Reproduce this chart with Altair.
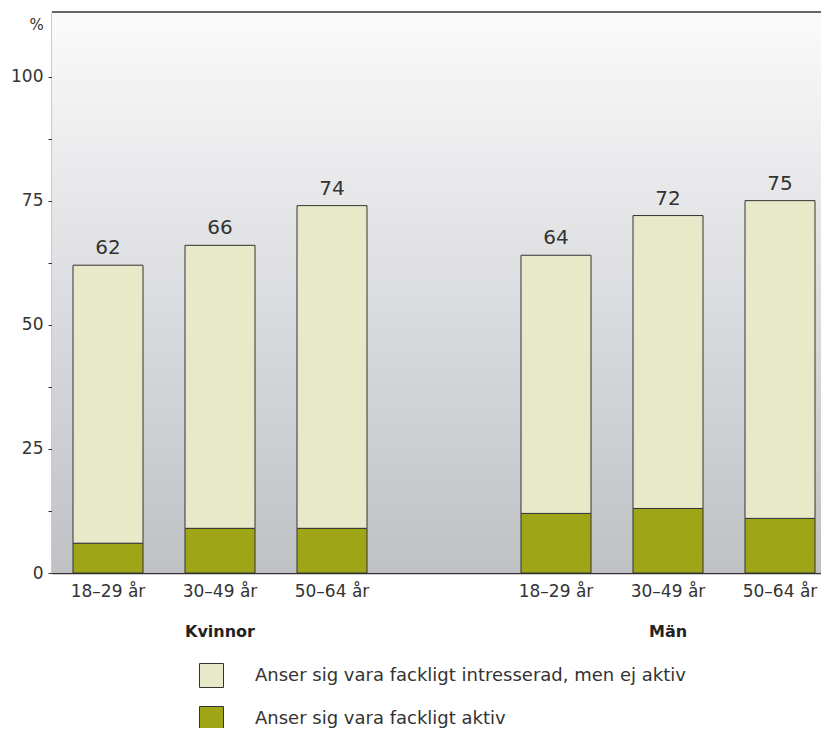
import altair as alt
import pandas as pd

# ---- data ----
keys = ["K1", "K2", "K3", "gap", "M1", "M2", "M3"]
age_labels = ["18–29 år", "30–49 år", "50–64 år", "", "18–29 år", "30–49 år", "50–64 år"]
bar_keys = ["K1", "K2", "K3", "M1", "M2", "M3"]
totals = [62, 66, 74, 64, 72, 75]          # intresserad (incl. aktiva)
active = [6, 9, 9, 12, 13, 11]              # fackligt aktiv
group_keys = ["K2", "M2"]
group_names = ["Kvinnor", "Män"]
series = ["Anser sig vara fackligt intresserad, men ej aktiv",
          "Anser sig vara fackligt aktiv"]
colors = ["#e8e9c9", "#9ea617"]

FONT = "DejaVu Sans"
W, H = 769, 561

rows = []
for k, t, a in zip(bar_keys, totals, active):
    rows.append({"key": k, "serie": series[1], "lo": 0, "hi": a})
    rows.append({"key": k, "serie": series[0], "lo": a, "hi": t})
bars_df = pd.DataFrame(rows)
tot_df = pd.DataFrame({"key": bar_keys, "total": totals})
grp_df = pd.DataFrame({"key": group_keys, "name": group_names})

label_map = "{" + ",".join(f"'{k}':'{l}'" for k, l in zip(keys, age_labels)) + "}"

xscale = alt.Scale(domain=keys, range=[0, 784], paddingInner=0.375, paddingOuter=0.1875)
yscale = alt.Scale(domain=[0, 113], nice=False)

x_enc = alt.X("key:N", scale=xscale, sort=keys,
              axis=alt.Axis(title=None, labelExpr=f"{label_map}[datum.value]",
                            labelAngle=0, ticks=False, labelPadding=10,
                            labelFontSize=17, labelColor="#333", labelFont=FONT,
                            domainColor="#333", domainWidth=1.5))

bg = alt.Chart(alt.Data(values=[{}])).mark_rect(
    fill=alt.Gradient(gradient="linear", x1=0, x2=0, y1=0, y2=1,
                      stops=[alt.GradientStop(color="#fbfbfb", offset=0),
                             alt.GradientStop(color="#dcdde0", offset=0.5),
                             alt.GradientStop(color="#bfc1c5", offset=1)])
).encode(x=alt.value(0), x2=alt.value("width"), y=alt.value(0), y2=alt.value("height"))

top_line = alt.Chart(alt.Data(values=[{}])).mark_rule(color="#333", strokeWidth=1.5).encode(
    x=alt.value(0), x2=alt.value("width"), y=alt.value(0))

bars = alt.Chart(bars_df).mark_bar(stroke="#333", strokeWidth=1).encode(
    x=x_enc,
    y=alt.Y("lo:Q", scale=yscale,
            axis=alt.Axis(title="%", titleAngle=0, titleX=-16, titleY=12,
                          titleAlign="center", titleBaseline="middle",
                          titleFontSize=15, titleFontWeight="normal", titleFont=FONT,
                          titleColor="#333",
                          values=[0, 12.5, 25, 37.5, 50, 62.5, 75, 87.5, 100],
                          labelExpr="datum.value % 25 == 0 ? datum.label : ''",
                          grid=False, tickSize=4, tickColor="#333",
                          labelFontSize=17, labelColor="#333", labelFont=FONT,
                          labelPadding=5, domainColor="#333", domainWidth=1.5)),
    y2="hi:Q",
    color=alt.Color("serie:N", scale=alt.Scale(domain=series, range=colors),
                    legend=alt.Legend(title=None, orient="none", legendX=147, legendY=651,
                                      direction="vertical", symbolType="square",
                                      symbolSize=576, symbolStrokeColor="#333",
                                      symbolStrokeWidth=1, symbolOpacity=1,
                                      labelFontSize=18, labelFont=FONT, labelColor="#333",
                                      labelOffset=31, rowPadding=14, labelLimit=600)),
)

vals = alt.Chart(tot_df).mark_text(fontSize=20, font=FONT, color="#333",
                                   baseline="alphabetic", dy=-11).encode(
    x=alt.X("key:N", scale=xscale, sort=keys),
    y=alt.Y("total:Q", scale=yscale),
    text="total:Q",
)

groups = alt.Chart(grp_df).mark_text(fontSize=16, font=FONT, fontWeight="bold",
                                     color="#222", baseline="middle").encode(
    x=alt.X("key:N", scale=xscale, sort=keys),
    y=alt.value(620),
    text="name:N",
)

chart = alt.layer(bg, top_line, bars, vals, groups).properties(
    width=W, height=H,
    autosize=alt.AutoSizeParams(type="none"),
    padding={"left": 44, "top": 4, "right": 0, "bottom": 155},
).configure_view(stroke=None)

chart.save("out.html", embed_options={"renderer": "svg", "actions": False})
